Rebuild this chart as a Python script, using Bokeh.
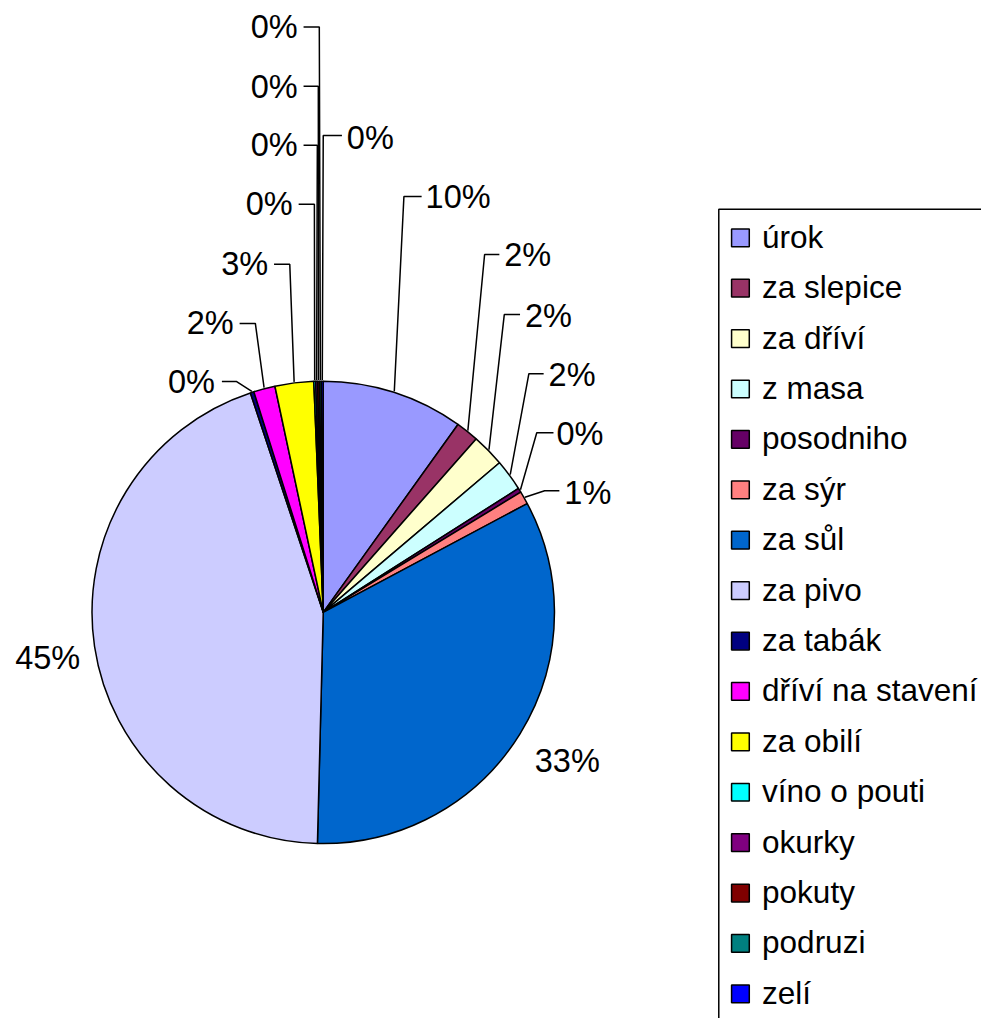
import math
from bokeh.plotting import figure
from bokeh.models import Range1d, ColumnDataSource
from bokeh.core.properties import value
from bokeh.embed import file_html
from bokeh.resources import INLINE

# ---- data ----
categories = ["úrok", "za slepice", "za dříví", "z masa", "posodniho", "za sýr",
              "za sůl", "za pivo", "za tabák", "dříví na stavení", "za obilí",
              "víno o pouti", "okurky", "pokuty", "podruzi", "zelí"]
shares = [9.9, 1.6, 2.3, 2.2, 0.3, 0.9, 33.2, 44.5, 0.25, 1.5, 2.7,
          0.13, 0.13, 0.13, 0.13, 0.13]
pct_labels = ["10%", "2%", "2%", "2%", "0%", "1%", "33%", "45%", "0%", "2%", "3%",
              "0%", "0%", "0%", "0%", "0%"]
colors = ["#9999FF", "#993366", "#FFFFCC", "#CCFFFF", "#660066", "#FF8080",
          "#0066CC", "#CCCCFF", "#000080", "#FF00FF", "#FFFF00",
          "#00FFFF", "#800080", "#800000", "#008080", "#0000FF"]

# ---- layout (reference pixel coordinates; data y = -pixel y) ----
REF_W, REF_H = 997, 1034
W, H = 981, 1018
S = W / REF_W
CX, CY, R = 328, 621.5, 235
# label text anchor (x, y, align) and leader line (start x, elbow x, y); None = no leader
label_layout = [
    (432, 200, "left", (428, 410, 199)),
    (512, 258, "left", (507, 492, 258)),
    (533, 320, "left", (528, 512, 319)),
    (557, 380, "left", (552, 537, 379)),
    (565, 440, "left", (562, 545, 439)),
    (573, 500, "left", (568, 553, 498)),
    (576, 772, "center", None),
    (48, 668, "center", None),
    (218, 388, "right", (225, 240, 387)),
    (237, 328, "right", (243, 259, 328)),
    (272, 268, "right", (278, 294, 268)),
    (297, 207, "right", (303, 319, 207)),
    (302, 147, "right", (308, 322, 147)),
    (302, 88, "right", (308, 323, 87)),
    (302, 27, "right", (308, 324, 27)),
    (352, 140, "left", (347, 328, 137)),
]
LEG_X, LEG_TOP, LEG_Y0, LEG_DY = 730, 212, 241, 51.2
FONT = value("Liberation Sans")
LABEL_FS = f"{33 * S:.1f}px"
LEG_FS = f"{32 * S:.1f}px"

p = figure(width=W, height=H, output_backend="svg", toolbar_location=None,
           x_range=Range1d(0, REF_W), y_range=Range1d(-REF_H, 0),
           x_axis_type=None, y_axis_type=None, min_border=0,
           outline_line_color=None, background_fill_color="white")
p.grid.visible = False

total = sum(shares)
starts, ends, mids = [], [], []
cum = 0.0
for s in shares:
    f0 = cum / total
    cum += s
    f1 = cum / total
    starts.append(math.pi / 2 - 2 * math.pi * f0)
    ends.append(math.pi / 2 - 2 * math.pi * f1)
    mids.append(math.pi / 2 - 2 * math.pi * (f0 + f1) / 2)

src = ColumnDataSource(dict(start=starts, end=ends, color=colors, cat=categories))
p.wedge(x=CX, y=-CY, radius=R, start_angle="start", end_angle="end",
        direction="clock", fill_color="color", line_color="black",
        line_width=1.5, source=src)

# leader lines
xs, ys = [], []
for (tx, ty, al, lead), a in zip(label_layout, mids):
    if lead is None:
        continue
    x0, xe, yl = lead
    px = CX + (R + 1) * math.cos(a)
    py = -CY + (R + 1) * math.sin(a)
    xs.append([x0, xe, px])
    ys.append([-yl, -yl, py])
p.multi_line(xs=xs, ys=ys, line_color="black", line_width=1.5)

# percentage labels
for (tx, ty, al, lead), lab in zip(label_layout, pct_labels):
    p.text(x=[tx], y=[-ty], text=[lab], text_font=FONT, text_font_size=LABEL_FS,
           text_align=al, text_baseline="middle", text_color="black")

# legend
p.quad(left=[LEG_X], right=[LEG_X + 400], top=[-LEG_TOP], bottom=[-LEG_TOP - 1000],
       fill_color="white", line_color="black", line_width=1.5)
leg_y = [-(LEG_Y0 + i * LEG_DY) for i in range(len(categories))]
p.rect(x=[752] * len(categories), y=leg_y, width=18, height=18,
       fill_color=colors, line_color="black", line_width=1.5)
p.text(x=[774] * len(categories), y=[y + 1 for y in leg_y], text=categories,
       text_font=FONT, text_font_size=LEG_FS, text_align="left",
       text_baseline="middle", text_color="black")

open("out.html", "w").write(file_html(p, INLINE))
